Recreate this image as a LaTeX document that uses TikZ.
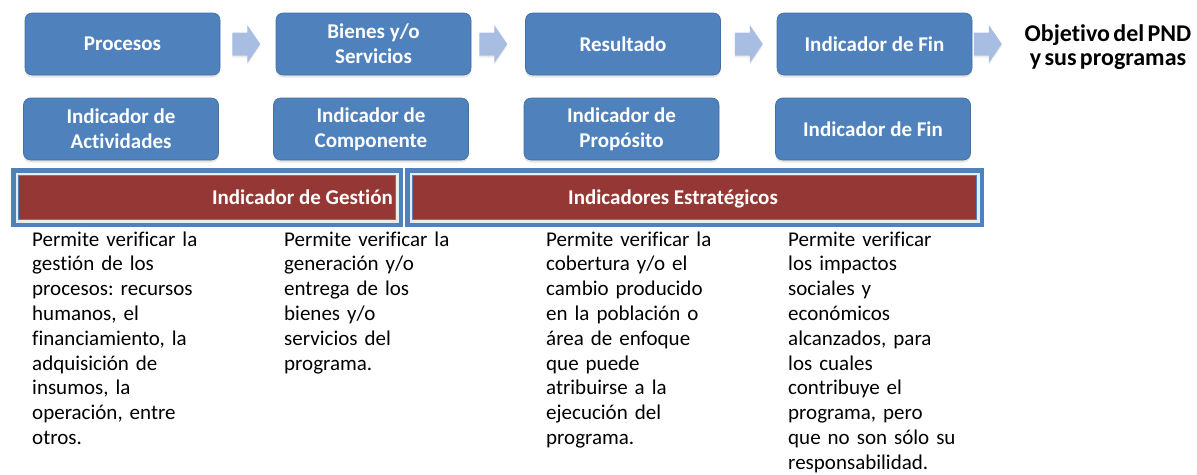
\documentclass[tikz,border=0pt]{standalone}
\usepackage{fontspec}
\setmainfont{Carlito}[Ligatures=NoCommon]
\usetikzlibrary{shadows,calc}
\definecolor{boxblue}{RGB}{79,129,189}
\definecolor{arrowblue}{RGB}{167,190,226}
\definecolor{barred}{RGB}{149,55,53}
\definecolor{framegap}{RGB}{228,236,246}
\frenchspacing
\newcommand{\nsp}{\hspace{0.14em}}
\begin{document}
\begin{tikzpicture}[x=1pt,y=-1pt,
  box/.style={rounded corners=7pt, fill=boxblue, draw=boxblue!85!black, line width=0.6pt,
    minimum width=195pt, minimum height=62pt, inner sep=0pt, align=center, text=white,
    font=\fontsize{21}{25}\selectfont\bfseries,
    drop shadow={shadow xshift=0pt, shadow yshift=-2.5pt, opacity=0.2}},
  bodytext/.style={anchor=base west, text width=220pt, align=left, inner sep=0pt,
    font=\fontsize{21}{24.8}\selectfont, text=black},
  bartext/.style={inner sep=0pt, text=white, font=\fontsize{21}{25}\selectfont\bfseries},
  objtext/.style={anchor=base, text width=200pt, align=center, inner sep=0pt,
    font=\fontsize{24}{24}\selectfont\bfseries, text=black},
  framethick/.style={draw=boxblue, line width=4.5pt, fill=framegap,
    drop shadow={shadow xshift=0pt, shadow yshift=-2.5pt, opacity=0.2}},
  barfill/.style={fill=barred, draw=boxblue, line width=1.2pt},
  blockarrow/.pic={\fill[arrowblue, drop shadow={shadow xshift=0pt, shadow yshift=-2pt, opacity=0.15}]
    (-14,-11.5) -- (1,-11.5) -- (1,-19) -- (14,0) -- (1,19) -- (1,11.5) -- (-14,11.5) -- cycle;}
]
\useasboundingbox (0,0) rectangle (1197,474);

% top row
\node[box] (p1) at (122.5,44) {Procesos};
\node[box] (p2) at (373.5,44) {Bienes y/o\\Servicios};
\node[box] (p3) at (623,44) {Resultado};
\node[box] (p4) at (874.5,44) {Indicador de Fin};
\node[objtext] (obj) at (1108,41) {Objetivo\nsp del\nsp PND\\y\nsp sus\nsp programas};

% arrows
\pic at ($(p1.east)+(26,0)$) {blockarrow};
\pic at ($(p2.east)+(22,0)$) {blockarrow};
\pic at ($(p3.east)+(28,0)$) {blockarrow};
\pic at ($(p4.east)+(15.5,0)$) {blockarrow};

% second row
\node[box] (i1) at (121,129) {Indicador de\\Actividades};
\node[box] (i2) at (371,129) {Indicador de\\Componente};
\node[box] (i3) at (621.5,129) {Indicador de\\Propósito};
\node[box] (i4) at (873,129) {Indicador de Fin};

% frames and red bars
\draw[framethick] (13.25,170.25) rectangle (400.75,224.75);
\draw[barfill] (18.5,175.5) rectangle (395.5,219.5);
\draw[framethick] (407.25,170.25) rectangle (981.75,224.75);
\draw[barfill] (412.5,175.5) rectangle (976.5,219.5);
\node[bartext, anchor=base east] (gest) at (393,204) {Indicador de Gestión};
\node[bartext, anchor=base] (estr) at (673,204) {Indicadores Estratégicos};

% descriptions
\node[bodytext] (d1) at (32,246) {Permite verificar la\\gestión de los\\procesos: recursos\\humanos, el\\financiamiento, la\\adquisición de\\insumos, la\\operación, entre\\otros.};
\node[bodytext] (d2) at (284,246) {Permite verificar la\\generación y/o\\entrega de los\\bienes y/o\\servicios del\\programa.};
\node[bodytext] (d3) at (546,246) {Permite verificar la\\cobertura y/o el\\cambio producido\\en la población o\\área de enfoque\\que puede\\atribuirse a la\\ejecución del\\programa.};
\node[bodytext] (d4) at (788,246) {Permite verificar\\los impactos\\sociales y\\económicos\\alcanzados, para\\los cuales\\contribuye el\\programa, pero\\que no son sólo su\\responsabilidad.};
\end{tikzpicture}
\end{document}
